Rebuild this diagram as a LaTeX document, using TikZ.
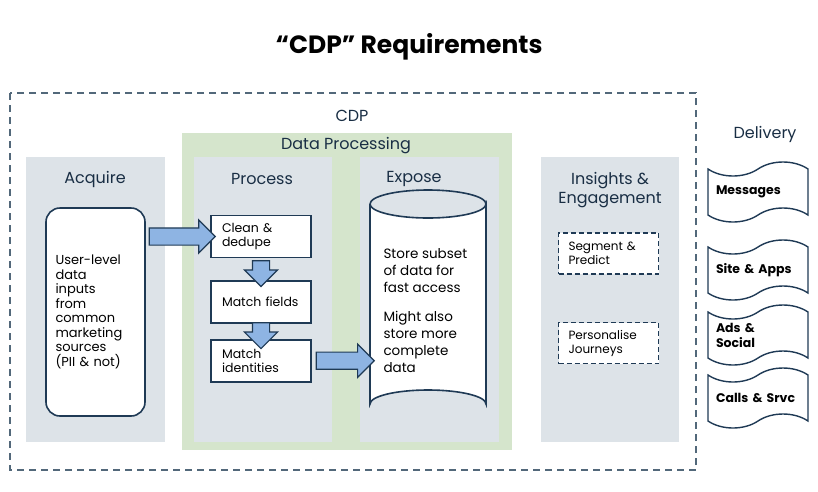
\documentclass[tikz,border=0pt]{standalone}
\usepackage{fontspec}
\setmainfont{Poppins}
\usetikzlibrary{positioning}
\usetikzlibrary{calc}
\usetikzlibrary{shapes.symbols}
\usetikzlibrary{shapes.arrows}
\definecolor{dblue}{HTML}{1F3A55}
\definecolor{panel}{HTML}{DDE3E8}
\definecolor{mgreen}{HTML}{D5E5CC}
\definecolor{ablue}{HTML}{8EB4E3}
\definecolor{dgrey}{HTML}{52687A}
\tikzset{
  stage/.style = {draw = dblue, fill = white, line width = 1.6pt, minimum width = 100pt, minimum height = 42pt, align = left, font = \fontsize{12.5}{14.5}\selectfont, text width = 78pt},
  seg/.style = {draw = dblue, fill = white, line width = 1.5pt, dash pattern = on 5pt off 3pt, minimum width = 100pt, minimum height = 41pt, align = left, font = \fontsize{12}{14}\selectfont, text width = 80pt},
  blk/.style = {single arrow, fill = ablue, draw = dblue, line width = 1.2pt, single arrow head extend = 8pt, inner sep = 8pt, minimum width = 32pt},
  flag/.style = {tape, draw = dblue, fill = white, line width = 1.4pt, minimum width = 100pt, minimum height = 60pt, tape bend height = 14pt, align = left, text width = 84pt, font = \fontsize{12.5}{15}\selectfont\bfseries},
  head/.style = {font = \fontsize{16}{19}\selectfont, text = dblue!80!black, align = center}
}
\begin{document}
\begin{tikzpicture}[x = 1pt, y = -1pt]
  \useasboundingbox (0, 0) rectangle (818, 491);

  \node [font = \fontsize{25}{30}\selectfont\bfseries] (title) at (409, 47) {“CDP” Requirements};

  \draw [dgrey, line width = 1.4pt, dash pattern = on 7pt off 5pt] (10, 93) rectangle (696, 470);
  \node [head] (cdp) at (352, 116) {CDP};

  \fill [mgreen] (182, 133) rectangle (512, 450);
  \node [head] (dp) at (346, 146) {Data Processing};

  \fill [panel] (26, 157) rectangle (165, 442);
  \fill [panel] (194, 157) rectangle (332, 442);
  \fill [panel] (360, 157) rectangle (499, 442);
  \fill [panel] (541, 157) rectangle (679, 442);
  \node [head] at (95, 179) {Acquire};
  \node [head] at (262, 179) {Process};
  \node [head] at (414, 179) {Expose};
  \node [head] at (610, 190) {Insights \&\\Engagement};

  % acquire
  \node [draw = dblue, fill = white, line width = 1.6pt, rounded corners = 14pt, minimum width = 99pt, minimum height = 208pt, align = left, text width = 80pt, font = \fontsize{13}{14.5}\selectfont] (acq) at (95.5, 312) {User-level\\data\\inputs\\from\\common\\marketing\\sources\\(PII \& not)};

  % process
  \node [stage] (clean) at (261, 236.5) {Clean \&\\dedupe};
  \node [stage, below = 22pt of clean] (fields) {Match fields};
  \node [stage, below = 15pt of fields] (ident) {Match\\identities};

  % expose
  \coordinate (topc) at (428, 204);
  \coordinate (botc) at (428, 404);
  \draw [dblue, fill = white, line width = 1.6pt] ($(topc) + (-58, 0)$) -- ($(botc) + (-58, 0)$) arc (180:360:58 and 14) -- ($(topc) + (58, 0)$) arc (0:180:58 and 14);
  \draw [dblue, line width = 1.6pt] ($(topc) + (-58, 0)$) arc (180:360:58 and 14);
  \coordinate (store) at ($(topc) + (-58, 0)$);
  \node [align = left, font = \fontsize{13.5}{17}\selectfont, anchor = north west] (storetxt) at (380, 245) {Store subset\\of data for\\fast access\\[12pt]Might also\\store more\\complete\\data};

  % block arrows
  \node [blk, minimum height = 66pt] at ($(acq.east |- clean.west)!0.5!(clean.west)$) {};
  \node [blk, minimum height = 58pt] at ($(ident.east)!0.5!(ident.east -| store)$) {};
  \node [blk, minimum height = 22pt, rotate = -90] at ($(clean.south)!0.5!(fields.north)$) {};
  \node [blk, minimum height = 15pt, rotate = -90] at ($(fields.south)!0.5!(ident.north)$) {};

  % insights
  \node [seg] (segm) at (608.5, 253.5) {Segment \&\\Predict};
  \node [seg] (pers) at (608.5, 343) {Personalise\\Journeys};

  % delivery
  \node [head] (deliv) at (765, 134) {Delivery};
  \node [flag] (msg) at (758, 192) {Messages};
  \node [flag] (site) at (758, 270) {Site \& Apps};
  \node [flag] (ads) at (758, 335) {Ads \&\\Social};
  \node [flag] (calls) at (758, 398) {Calls \& Srvc};
\end{tikzpicture}
\end{document}
